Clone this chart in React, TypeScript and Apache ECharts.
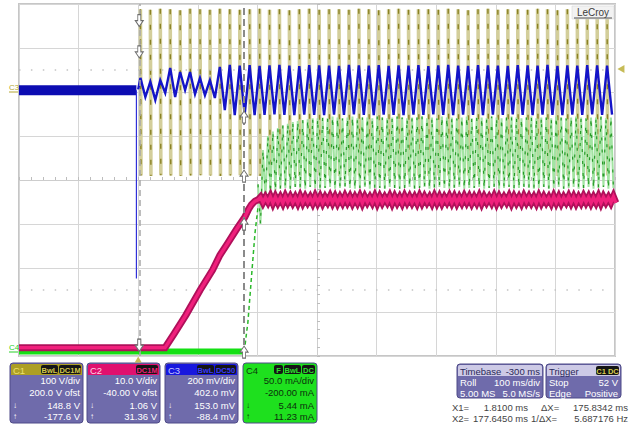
import React, { useEffect, useRef } from "react";
import * as echarts from "echarts";

// ---- acquisition settings ----
const timeMin = -200; // ms, 100 ms/div, trigger at 0
const timeMax = 800;
const lineHalfCycle = 8.33; // ms between crest and trough of the 60 Hz line
const lineFirstCrest = 3.7; // ms
const strokeSpan = 1.0; // ms, crest-to-trough sweep drawn as one stroke per cycle
const rippleStart = 201; // ms
const rippleStep = 4.17; // ms between ripple extremes

// ---- C1 line voltage (V): crest/trough values after the trigger ----
const c1Extrema = [
  188, -190, 187, -191, 189, -189, 188, -190, 186, -191, 189, -190, 188, -189, 187, -190,
  189, -191, 188, -190, 187, -189, 188, -190, 189, -191, 187, -190, 188, -189, 186, -190,
  188, -191, 189, -190, 187, -189, 188, -190, 188, -191, 187, -190, 189, -189, 188, -190,
  186, -190, 188, -191, 189, -190, 187, -189, 188, -190, 188, -191, 187, -190, 189, -190,
  188, -189, 186, -190, 188, -191, 189, -190, 187, -189, 188, -190, 188, -191, 187, -190,
  189, -189, 188, -190, 186, -191, 188, -190, 189, -189, 187, -190, 188, -191, 188, -190,
];

// ---- C3 (mV) ----
const c3Idle = [[-200, 6], [-3, 6]];
const c3Drop = [[-3, 6], [-3, -850]];
const c3Extrema = [
  62, -25, 45, -38, 52, -6, 107, -25, 89, 7, 89, -11, 62, -16, 52, -29,
  112, -84, 121, -107, 118, -105, 120, -107, 117, -106, 119, -104, 121, -106, 118, -107,
  116, -105, 120, -106, 119, -107, 118, -105, 117, -106, 121, -104, 119, -106, 118, -107,
  120, -105, 117, -106, 119, -107, 118, -105, 120, -106, 116, -104, 119, -106, 121, -107,
  118, -105, 117, -106, 120, -107, 119, -105, 118, -106, 117, -104, 120, -106, 119, -107,
  118, -105, 121, -106, 117, -107, 119, -105, 118, -106, 120, -104, 119, -106, 118, -105,
];

// ---- C4 current (mA) ----
const c4Idle = [[-200, 5], [178, 5]];
const c4Rise = [[178, 5], [181, 22], [184, 38], [188, 72], [191, 98], [196, 140], [201, 169]];
const c4Extrema = [
  195, 150, 234, 178, 250, 185, 255, 188, 259, 190, 262, 191, 264, 190, 266, 192,
  267, 191, 268, 190, 269, 192, 270, 191, 270, 190, 271, 191, 270, 192, 272, 190,
  271, 191, 270, 192, 271, 191, 272, 190, 270, 191, 271, 192, 271, 190, 270, 191,
  272, 191, 271, 190, 270, 192, 271, 191, 272, 190, 271, 191, 270, 192, 271, 190,
  271, 191, 272, 192, 270, 190, 271, 191, 270, 192, 272, 191, 271, 190, 271, 191,
  270, 192, 271, 190, 272, 191, 270, 191, 271, 192, 271, 190, 270, 191, 272, 192,
  271, 190, 270, 191, 271, 192, 272, 190, 271, 191, 270, 192, 271, 191, 272, 190,
  270, 191, 271, 192, 271, 190, 270, 191, 272, 192, 271, 190, 270, 191, 271, 192,
  272, 190, 271, 191, 270, 192, 271, 190, 271, 191, 272, 192, 270, 190, 271, 191,
];

// ---- C2 output voltage (V) ----
const c2Ramp = [
  [-200, 1.9], [45, 1.9], [60, 5.0], [80, 9.3], [104, 15.0], [125, 19.6], [137, 22.9],
  [150, 25.6], [165, 28.8], [179, 31.6], [185, 33.3], [190, 34.4], [196, 35.2], [201, 35.5],
];
const c2Ripple = [
  36.1, 34.9, 36.0, 35.0, 36.2, 34.8, 36.1, 34.9, 36.0, 34.8, 36.2, 35.0, 36.1, 34.9, 36.0, 34.8,
  36.2, 34.9, 36.1, 35.0, 36.0, 34.8, 36.2, 34.9, 36.1, 34.8, 36.0, 35.0, 36.2, 34.9, 36.1, 34.8,
  36.0, 34.9, 36.2, 35.0, 36.1, 34.8, 36.0, 34.9, 36.2, 34.8, 36.1, 35.0, 36.0, 34.9, 36.2, 34.8,
  36.1, 34.9, 36.0, 35.0, 36.2, 34.8, 36.1, 34.9, 36.0, 34.8, 36.2, 35.0, 36.1, 34.9, 36.0, 34.8,
  36.2, 34.9, 36.1, 35.0, 36.0, 34.8, 36.2, 34.9, 36.1, 34.8, 36.0, 35.0, 36.2, 34.9, 36.1, 34.8,
  36.0, 34.9, 36.2, 35.0, 36.1, 34.8, 36.0, 34.9, 36.2, 34.8, 36.1, 35.0, 36.0, 34.9, 36.2, 34.8,
  36.1, 34.9, 36.0, 35.0, 36.2, 34.8, 36.1, 34.9, 36.0, 34.8, 36.2, 35.0, 36.1, 34.9, 36.0, 34.8,
  36.2, 34.9, 36.1, 35.0, 36.0, 34.8, 36.2, 34.9, 36.1, 34.8, 36.0, 35.0, 36.2, 34.9, 36.1, 34.8,
  36.0, 34.9, 36.2, 35.0, 36.1, 34.8, 36.0, 34.9, 36.2, 34.8, 36.1, 35.0, 36.0, 34.9, 36.2, 34.8,
];

// ---- cursors and their readings ----
const cursorX = [1.81, 177.645]; // ms
const cursorDelta = 175.8342; // ms
const c1Cursor = [148.8, -177.6]; // V
const c2Cursor = [1.06, 31.36]; // V
const c3Cursor = [153.0, -88.4]; // mV
const c4Cursor = [5.44, 11.23]; // mA
const triggerLevel = 52; // V

const sampled = (start: number, step: number, values: number[]) =>
  values.map((v, i) => [start + i * step, v]);

// one near-vertical crest-to-trough stroke per line cycle, strokes kept apart
function cycleStrokes(start: number, halfCycle: number, values: number[]) {
  const out: any[] = [];
  for (let i = 0; i + 1 < values.length; i += 2) {
    const t = start + i * halfCycle;
    out.push([t, values[i]], [t + strokeSpan, values[i + 1]], [t + strokeSpan + 0.5, null]);
  }
  return out;
}

const FONT = '"Liberation Sans", Arial, sans-serif';
const ARROW_DOWN = "path://M2.5,0 L5.5,0 L5.5,6 L8,6 L4,12 L0,6 L2.5,6 Z";
const ARROW_UP = "path://M4,0 L8,6 L5.5,6 L5.5,12 L2.5,12 L2.5,6 L0,6 Z";

type Badge = { text: string; w: number };

function textEl(x: number, y: number, text: string, fill: string, size: number, align = "left", weight = "normal", z = 0) {
  return {
    type: "text",
    x,
    y,
    z,
    silent: true,
    style: {
      text,
      fill,
      font: `${weight} ${size}px ${FONT}`,
      textAlign: align,
      align,
      textVerticalAlign: "middle",
      verticalAlign: "middle",
    },
  };
}

function channelPanel(
  x: number, w: number, name: string, head: string, nameFill: string,
  badges: Badge[], badgeFill: string, body: string, ink: string, rows: string[]
) {
  const y = 363;
  const h = 60;
  const els: any[] = [
    { type: "rect", silent: true, shape: { x, y, width: w, height: h, r: 3 }, style: { fill: body, stroke: "#4f4b88", lineWidth: 1 } },
    { type: "rect", silent: true, shape: { x: x + 1, y: y + 1, width: w - 2, height: 11, r: [2, 2, 0, 0] }, style: { fill: head } },
    textEl(x + 3, y + 7, name, nameFill, 9.5),
  ];
  let bx = x + w - 2;
  for (let i = badges.length - 1; i >= 0; i--) {
    const b = badges[i];
    bx -= b.w;
    els.push({ type: "rect", silent: true, shape: { x: bx, y: y + 2, width: b.w, height: 9, r: 2 }, style: { fill: "#151515" } });
    els.push(textEl(bx + b.w / 2, y + 7, b.text, badgeFill, 7.5, "center", "bold"));
    bx -= 1;
  }
  const rowY = [380, 392, 405, 416];
  rows.forEach((r, i) => els.push(textEl(x + w - 3, rowY[i], r, ink, 9.5, "right")));
  els.push(textEl(x + 3, rowY[2], "↓", ink, 8));
  els.push(textEl(x + 3, rowY[3], "↑", ink, 8));
  return els;
}

function infoPanel(x: number, w: number, title: string, right: string, rows: [string, string][], badge?: Badge) {
  const y = 364;
  const els: any[] = [
    { type: "rect", silent: true, shape: { x, y, width: w, height: 34, r: 3 }, style: { fill: "#6f6bab", stroke: "#4f4b88", lineWidth: 1 } },
    { type: "rect", silent: true, shape: { x: x + 1, y: y + 1, width: w - 2, height: 11, r: [2, 2, 0, 0] }, style: { fill: "#cdcae6" } },
    textEl(x + 3, y + 7, title, "#2a2858", 9.5),
  ];
  if (right) els.push(textEl(x + w - 3, y + 7, right, "#2a2858", 9.5, "right"));
  if (badge) {
    els.push({ type: "rect", silent: true, shape: { x: x + w - 2 - badge.w, y: y + 2, width: badge.w, height: 9, r: 2 }, style: { fill: "#151515" } });
    els.push(textEl(x + w - 2 - badge.w / 2, y + 7, badge.text, "#d8cc50", 7.5, "center", "bold"));
  }
  rows.forEach(([l, r], i) => {
    els.push(textEl(x + 3, y + 18 + i * 11, l, "#ffffff", 9.5));
    els.push(textEl(x + w - 3, y + 18 + i * 11, r, "#ffffff", 9.5, "right"));
  });
  return els;
}

function buildOption() {
  const c1Data = cycleStrokes(lineFirstCrest, lineHalfCycle, c1Extrema);
  const c3Data = [[0, 10], ...sampled(lineFirstCrest, lineHalfCycle, c3Extrema)];
  const c4Data = sampled(rippleStart, rippleStep, c4Extrema);
  const c2Data = [...c2Ramp, ...sampled(rippleStart + rippleStep, rippleStep, c2Ripple)];

  const line = (data: any[], yAxisIndex: number, color: string, width: number, z: number, type: any = "solid") => ({
    type: "line",
    data,
    xAxisIndex: 0,
    yAxisIndex,
    showSymbol: false,
    symbol: "none",
    silent: true,
    connectNulls: false,
    z,
    lineStyle: { color, width, type, cap: "butt", join: "miter" },
  });

  const arrows = (yAxisIndex: number, values: number[], z: number) => ({
    type: "scatter",
    xAxisIndex: 0,
    yAxisIndex,
    silent: true,
    z,
    data: values.map((v, i) => ({
      value: [cursorX[i], v],
      symbol: i === 0 ? ARROW_DOWN : ARROW_UP,
      symbolOffset: i === 0 ? [0, -6] : [0, 6],
    })),
    symbolSize: [8, 12],
    itemStyle: { color: "#ffffff", borderColor: "#6e6e6e", borderWidth: 1, opacity: 1 },
  });

  const ink = "#444444";
  const graphic: any[] = [
    // instrument badge, drawn above the traces
    { type: "rect", z: 100, silent: true, shape: { x: 572, y: 6, width: 42, height: 13 }, style: { fill: "#f2f2f2", stroke: "#d0d0d0", lineWidth: 0.5 } },
    textEl(593, 12.5, "LeCroy", "#3c3c3c", 10, "center", "normal", 101),
    { type: "line", z: 101, silent: true, shape: { x1: 574, y1: 18, x2: 612, y2: 18 }, style: { stroke: "#505050", lineWidth: 1 } },
    // channel ground labels
    textEl(9, 87, "C3", "#b4a632", 8),
    { type: "line", silent: true, shape: { x1: 9, y1: 92, x2: 18, y2: 92 }, style: { stroke: "#b4a632", lineWidth: 1 } },
    textEl(9, 347, "C4", "#28d028", 8),
    { type: "line", silent: true, shape: { x1: 9, y1: 352, x2: 18, y2: 352 }, style: { stroke: "#28d028", lineWidth: 1 } },
    ...channelPanel(10, 73, "C1", "#ad9f24", "#ece070", [{ text: "BwL", w: 17 }, { text: "DC1M", w: 22 }], "#d4c84a", "#6f6bab", "#ffffff",
      ["100 V/div", "200.0 V ofst", `${c1Cursor[0].toFixed(1)} V`, `${c1Cursor[1].toFixed(1)} V`]),
    ...channelPanel(87, 73, "C2", "#e0106e", "#ffd0e4", [{ text: "DC1M", w: 22 }], "#f0207a", "#6f6bab", "#ffffff",
      ["10.0 V/div", "-40.00 V ofst", `${c2Cursor[0].toFixed(2)} V`, `${c2Cursor[1].toFixed(2)} V`]),
    ...channelPanel(165, 73, "C3", "#1818de", "#c8c8ff", [{ text: "BwL", w: 17 }, { text: "DC50", w: 21 }], "#3a3aff", "#6f6bab", "#ffffff",
      ["200 mV/div", "402.0 mV", `${c3Cursor[0].toFixed(1)} mV`, `${c3Cursor[1].toFixed(1)} mV`]),
    ...channelPanel(243, 74, "C4", "#1ee01e", "#0c3a0c", [{ text: "F", w: 9 }, { text: "BwL", w: 17 }, { text: "DC", w: 13 }], "#2ee02e", "#1ee01e", "#0c300c",
      ["50.0 mA/div", "-200.00 mA", `${c4Cursor[0].toFixed(2)} mA`, `${c4Cursor[1].toFixed(2)} mA`]),
    ...infoPanel(457, 86, "Timebase", "-300 ms", [["Roll", "100 ms/div"], ["5.00 MS", "5.0 MS/s"]]),
    ...infoPanel(546, 75, "Trigger", "", [["Stop", `${triggerLevel} V`], ["Edge", "Positive"]], { text: "C1 DC", w: 23 }),
    textEl(452, 407, "X1=", ink, 9.5),
    textEl(528, 407, `${cursorX[0].toFixed(4)} ms`, ink, 9.5, "right"),
    textEl(541, 407, "ΔX=", ink, 9.5),
    textEl(628, 407, `${cursorDelta.toFixed(4)} ms`, ink, 9.5, "right"),
    textEl(452, 418, "X2=", ink, 9.5),
    textEl(528, 418, `${cursorX[1].toFixed(4)} ms`, ink, 9.5, "right"),
    textEl(531, 418, "1/ΔX=", ink, 9.5),
    textEl(628, 418, `${(1000 / cursorDelta).toFixed(6)} Hz`, ink, 9.5, "right"),
  ];

  return {
    animation: false,
    backgroundColor: "#ffffff",
    grid: {
      left: 19,
      top: 4,
      width: 596,
      height: 352,
      show: true,
      borderColor: "#c6c6c6",
      borderWidth: 2,
      backgroundColor: "#ffffff",
    },
    xAxis: [
      {
        type: "value",
        min: timeMin,
        max: timeMax,
        interval: 100,
        axisLine: { show: true, onZero: true, onZeroAxisIndex: 0, lineStyle: { color: "#cdcdcd", width: 1 } },
        axisTick: { show: true, inside: true, length: 3, lineStyle: { color: "#bdbdbd" } },
        minorTick: { show: true, splitNumber: 5, length: 3, lineStyle: { color: "#bdbdbd" } },
        axisLabel: { show: false },
        splitLine: { show: true, lineStyle: { color: "#d6d6d6", width: 1 } },
      },
      { type: "value", min: -5, max: 5, show: false },
    ],
    yAxis: [
      {
        type: "value",
        min: -4,
        max: 4,
        interval: 1,
        axisLine: { show: true, onZero: true, onZeroAxisIndex: 1, lineStyle: { color: "#cdcdcd", width: 1 } },
        axisTick: { show: true, inside: true, length: 3, lineStyle: { color: "#bdbdbd" } },
        minorTick: { show: true, splitNumber: 5, length: 3, lineStyle: { color: "#bdbdbd" } },
        axisLabel: { show: false },
        splitLine: { show: true, lineStyle: { color: "#d6d6d6", width: 1 } },
      },
      { type: "value", min: -600, max: 200, show: false }, // C1, 100 V/div
      { type: "value", min: 0, max: 80, show: false }, // C2, 10 V/div
      { type: "value", min: -1202, max: 398, show: false }, // C3, 200 mV/div
      { type: "value", min: 0, max: 400, show: false }, // C4, 50 mA/div
    ],
    graphic,
    series: [
      {
        type: "line",
        xAxisIndex: 0,
        yAxisIndex: 0,
        data: [],
        silent: true,
        markLine: {
          silent: true,
          symbol: "none",
          label: { show: false },
          lineStyle: { color: "#c4c4c4", width: 1.5, type: [1.5, 10.4] },
          data: [{ yAxis: 2.5 }, { yAxis: -2.5 }],
        },
      },
      line(c1Data, 1, "#d3ce9a", 3.6, 3),
      line(c1Data, 1, "#8a8224", 1.4, 4, [5, 10]),
      line(c4Idle, 4, "#14e014", 6, 5),
      line(c4Rise, 4, "#2ab82a", 1.5, 5, [4, 3]),
      line(c4Data, 4, "#a2e4a2", 2, 5),
      line(c4Data, 4, "#2a9a2a", 1.2, 6, [3, 9]),
      line(c3Idle, 3, "#0c0cb2", 10, 7),
      line(c3Drop, 3, "#3030d8", 1.2, 7),
      line(c3Data, 3, "#1414c8", 2.4, 8),
      line(c2Data, 2, "#b0105a", 7, 9),
      line(c2Data, 2, "#f0207c", 3.4, 10),
      {
        ...arrows(1, c1Cursor, 20),
        markLine: {
          silent: true,
          symbol: "none",
          label: { show: false },
          z: 15,
          data: [
            { xAxis: cursorX[0], lineStyle: { color: "#a8a8a8", width: 1.5, type: [6, 4] } },
            { xAxis: cursorX[1], lineStyle: { color: "#8a8a8a", width: 2, type: [7, 4] } },
          ],
        },
      },
      arrows(2, c2Cursor, 20),
      arrows(3, c3Cursor, 20),
      arrows(4, c4Cursor, 20),
      {
        type: "scatter",
        xAxisIndex: 0,
        yAxisIndex: 1,
        clip: false,
        silent: true,
        data: [[timeMax + 10, triggerLevel]],
        symbol: "triangle",
        symbolRotate: 90,
        symbolSize: [8, 7],
        itemStyle: { color: "#b8aa2c" },
        z: 20,
      },
      {
        type: "scatter",
        xAxisIndex: 0,
        yAxisIndex: 0,
        clip: false,
        silent: true,
        data: [[0, -4.08]],
        symbol: "triangle",
        symbolSize: [7, 6],
        itemStyle: { color: "#b8aa2c" },
        z: 20,
      },
    ],
  };
}

export default function App() {
  const ref = useRef<HTMLDivElement>(null);
  useEffect(() => {
    if (!ref.current) return;
    const chart = echarts.init(ref.current, null, { renderer: "svg" });
    chart.setOption(buildOption() as any);
    return () => chart.dispose();
  }, []);
  return (
    <div
      ref={ref}
      style={{ position: "absolute", left: 0, top: 0, width: 631, height: 426, background: "#ffffff" }}
    />
  );
}
